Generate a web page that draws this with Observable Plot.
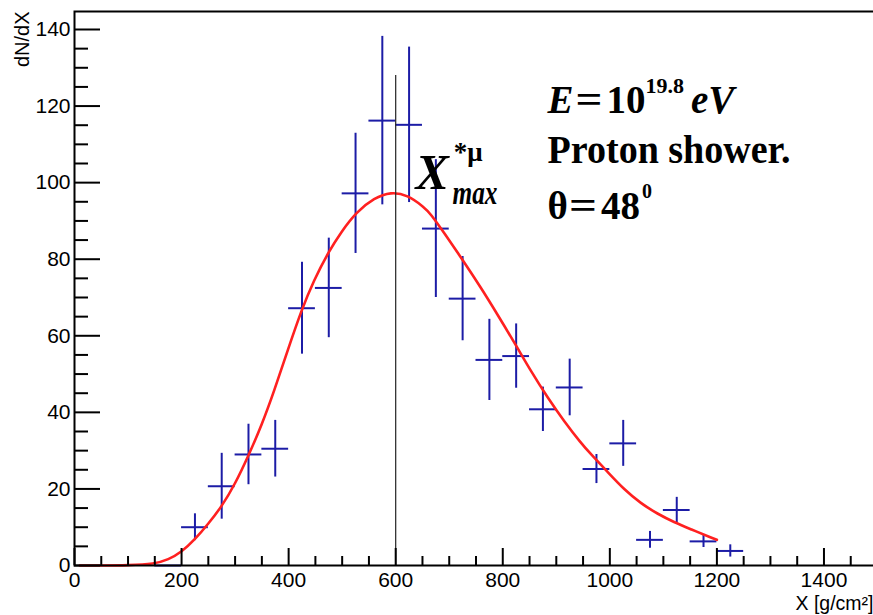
<!DOCTYPE html>
<html>
<head>
<meta charset="utf-8">
<script src="https://cdn.jsdelivr.net/npm/d3@7"></script>
<script src="https://cdn.jsdelivr.net/npm/@observablehq/plot@0.6"></script>
<style>
  html, body { margin: 0; padding: 0; background: #fff; overflow: hidden; }
  #chart svg { display: block; }
</style>
</head>
<body>
<div id="chart"></div>
<script>
// ---- Data ----
const binCenters = [175, 225, 275, 325, 375, 425, 475, 525, 575, 625, 675, 725, 775, 825, 875, 925, 975, 1025, 1075, 1125, 1175, 1225];
const counts     = [0, 10.0, 20.7, 29.0, 30.5, 67.2, 72.5, 97.2, 116.2, 115.1, 88.0, 69.7, 53.7, 54.7, 40.8, 46.5, 25.2, 31.9, 6.7, 14.5, 6.3, 3.8];
const errors     = [0, 3.5, 8.6, 7.9, 7.4, 12.0, 13.0, 15.7, 22.0, 20.3, 18.0, 11.0, 10.6, 8.4, 5.8, 7.4, 3.8, 6.0, 2.2, 3.3, 1.6, 1.6];
const binWidth = 50;

const curveX = [10, 50, 100, 150, 175, 200, 225, 250, 275, 300, 325, 350, 373, 398, 424, 447, 475, 497, 527, 560, 591, 622, 653, 665, 690, 728, 759, 790, 826, 852, 884, 915, 946, 965, 996, 1027, 1058, 1089, 1120, 1151, 1192, 1200];
const curveY = [0, 0, 0.05, 0.4, 1.5, 3.5, 6.8, 10.9, 15.4, 21.3, 28.7, 36.8, 45.6, 56.1, 66.7, 74.5, 82.0, 86.9, 92.4, 96.0, 97.6, 96.8, 93.6, 91.9, 87.0, 79.2, 72.6, 65.6, 57.2, 50.9, 43.8, 37.6, 32.0, 29.0, 24.4, 19.8, 16.2, 13.5, 11.3, 9.5, 7.1, 6.7];

const xmaxValue = 600;
const xmaxLineTop = 128;

const xMajorTicks = [0, 200, 400, 600, 800, 1000, 1200, 1400];
const xMinorTicks = [50, 100, 150, 250, 300, 350, 450, 500, 550, 650, 700, 750, 850, 900, 950, 1050, 1100, 1150, 1250, 1300, 1350, 1450];
const yMajorTicks = [0, 20, 40, 60, 80, 100, 120, 140];
const yMinorTicks = [5, 10, 15, 25, 30, 35, 45, 50, 55, 65, 70, 75, 85, 90, 95, 105, 110, 115, 125, 130, 135];

const xLabel = "X [g/cm²]";
const yLabel = "dN/dX";
const energyText = "E=10^19.8 eV";
const particleText = "Proton shower.";
const angleText = "θ=48^0";
const xmaxText = "X*μmax";

// ---- Build tables ----
const bins = binCenters.map((c, i) => ({x: c, y: counts[i], e: errors[i]}));
const fit = curveX.map((x, i) => ({x, y: curveY[i]}));

const blue = "#1c1ca6";
const red = "#ff2020";
const serif = "Liberation Serif";
const plain = d => String(d);

const plot = Plot.plot({
  width: 873,
  height: 615,
  marginLeft: 74,
  marginRight: -4,
  marginTop: 11,
  marginBottom: 50,
  x: {domain: [0, 1500], label: null},
  y: {domain: [0, 144.7], label: null},
  style: {fontFamily: "Liberation Sans", background: "white", color: "black"},
  marks: [
    // error bars (histogram)
    Plot.ruleY(bins, {y: "y", x1: d => d.x - binWidth / 2, x2: d => d.x + binWidth / 2, stroke: blue, strokeWidth: 2}),
    Plot.ruleX(bins.filter(d => d.e > 0), {x: "x", y1: d => d.y - d.e, y2: d => d.y + d.e, stroke: blue, strokeWidth: 2}),
    // fit curve
    Plot.line(fit, {x: "x", y: "y", stroke: red, strokeWidth: 2.6, curve: "basis"}),
    // Xmax line
    Plot.ruleX([xmaxValue], {y1: 0, y2: xmaxLineTop, stroke: "#222", strokeWidth: 1.2}),
    // axes ticks (inward, ROOT style)
    Plot.axisX({ticks: xMinorTicks, tickSize: -9, fill: "none", strokeWidth: 2, label: null}),
    Plot.axisX({ticks: xMajorTicks, tickSize: -17, fill: "none", strokeWidth: 2, label: null}),
    Plot.axisX({ticks: xMajorTicks, tickSize: 0, tickPadding: 7, fontSize: 21, tickFormat: plain, stroke: "none", label: null}),
    Plot.axisY({ticks: yMinorTicks, tickSize: -14, fill: "none", strokeWidth: 2, label: null}),
    Plot.axisY({ticks: yMajorTicks, tickSize: -26, fill: "none", strokeWidth: 2, label: null}),
    Plot.axisY({ticks: yMajorTicks, tickSize: 0, tickPadding: 4, fontSize: 21, tickFormat: plain, stroke: "none", label: null}),
    Plot.frame({stroke: "black", strokeWidth: 2}),
    // axis titles
    Plot.text([xLabel], {text: d => d, frameAnchor: "bottom-right", textAnchor: "end", lineAnchor: "bottom", dx: -4, dy: 44, fontSize: 19.5, fontFamily: "Liberation Sans"}),
    Plot.text([yLabel], {text: d => d, frameAnchor: "top-left", rotate: -90, textAnchor: "end", lineAnchor: "bottom", dx: -46, dy: 0, fontSize: 20, fontFamily: "Liberation Sans"}),
    // annotations
    Plot.text([energyText], {text: d => d, x: 883.6, y: 118.3, textAnchor: "start", lineAnchor: "bottom", fontFamily: serif, fontWeight: "bold", fontSize: 39}),
    Plot.text([particleText], {text: d => d, x: 883.6, y: 105.0, textAnchor: "start", lineAnchor: "bottom", fontFamily: serif, fontWeight: "bold", fontSize: 39}),
    Plot.text([angleText], {text: d => d, x: 883.6, y: 90.5, textAnchor: "start", lineAnchor: "bottom", fontFamily: serif, fontWeight: "bold", fontSize: 39}),
    Plot.text([xmaxText], {text: d => d, x: 637.0, y: 98.4, textAnchor: "start", lineAnchor: "bottom", fontFamily: serif, fontWeight: "bold", fontSize: 50})
  ]
});

document.getElementById("chart").appendChild(plot);

// ---- Rich text (superscripts/subscripts) ----
function rich(match, parts) {
  d3.select(plot).selectAll("text").filter(function() { return this.textContent === match; }).each(function() {
    const x0 = +this.getAttribute("x") || 0;
    const t = d3.select(this);
    t.text("");
    for (const p of parts) {
      const ts = t.append("tspan").text(p.t);
      if (p.x != null) ts.attr("x", x0 + p.x);
      if (p.dx) ts.attr("dx", p.dx);
      if (p.dy) ts.attr("dy", p.dy);
      if (p.size) ts.attr("font-size", p.size);
      if (p.italic) ts.attr("font-style", "italic");
      if (p.len) ts.attr("textLength", p.len).attr("lengthAdjust", "spacingAndGlyphs");
    }
  });
}
rich(energyText, [
  {t: "E", italic: true},
  {t: "=", dx: 2, len: 27},
  {t: "10", dx: 4},
  {t: "19.8", size: 22, dy: -20},
  {t: "eV", italic: true, dx: 7, dy: 20}
]);
rich(particleText, [{t: "Proton shower.", len: 243}]);
rich(angleText, [
  {t: "θ"},
  {t: "=", dx: 1, len: 28},
  {t: "48", dx: 4},
  {t: "0", size: 20, dy: -21, dx: 2}
]);
rich(xmaxText, [
  {t: "X", italic: true},
  {t: "*μ", size: 27, dx: 5, dy: -28},
  {t: "max", italic: true, size: 34, x: 37, dy: 43, len: 45}
]);
</script>
</body>
</html>
